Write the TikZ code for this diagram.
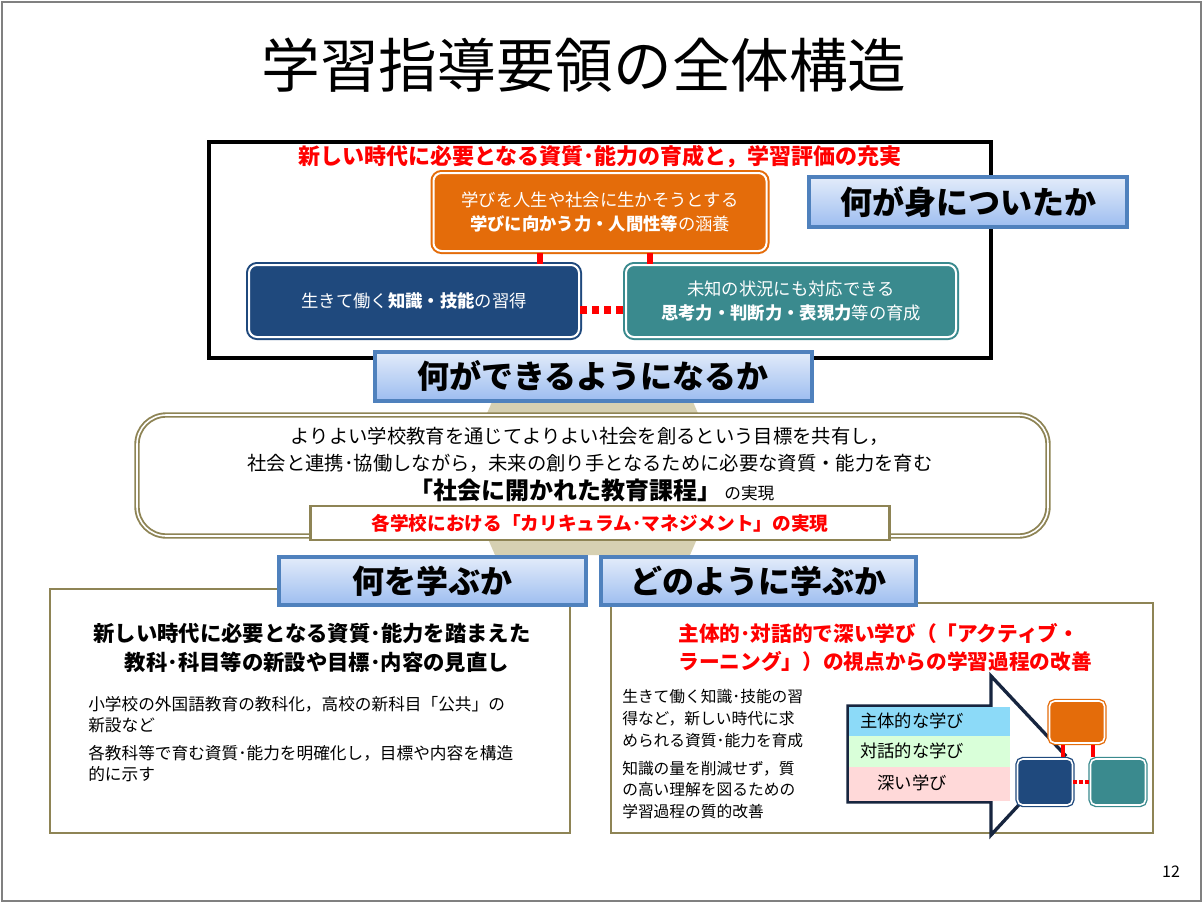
\documentclass[tikz,border=0pt]{standalone}
\usepackage{fontspec}
\setmainfont{Noto Sans CJK JP}
\begin{document}
\begin{tikzpicture}[x=0.75pt,y=-0.75pt,
  hdr/.style={draw=blueborder,line width=3pt,top color=hdtop,bottom color=hdbot,inner sep=0pt,font=\fontsize{24}{26}\selectfont\bfseries},
  oliv/.style={draw=olive2,line width=2.2pt},
  cbox/.style={rounded corners=6pt,line width=1.5pt,text=white,align=center,font=\fontsize{13}{18}\selectfont},
  rdash/.style={draw=red,line width=6pt,dash pattern=on 5pt off 4pt},
  txt/.style={inner sep=0pt,font=\fontsize{12.5}{15}\selectfont},
  red/.style={text=red}]
\definecolor{blueborder}{HTML}{4F81BD}
\definecolor{hdtop}{HTML}{E3ECFA}
\definecolor{hdbot}{HTML}{9DBDF0}
\definecolor{olive2}{HTML}{8E8455}
\definecolor{tan}{HTML}{D6D0B2}
\definecolor{orng}{HTML}{E46C0A}
\definecolor{dblue}{HTML}{1F497D}
\definecolor{teal2}{HTML}{3A8A8E}
\definecolor{navy}{HTML}{17253F}
\useasboundingbox (0,0) rectangle (1204,904);
\draw[gray,line width=0.8pt] (2,2) rectangle (1201,901);
\node (title) at (584,65) {\fontsize{44}{48}\selectfont 学習指導要領の全体構造};
% top box
\draw[line width=3pt] (209,142) rectangle (991,358);
\node[red,font=\fontsize{16.5}{18}\selectfont\bfseries] (goal) at (600,157) {新しい時代に必要となる資質･能力の育成と，学習評価の充実};
\node[cbox,fill=orng,draw=orng,double=white,double distance=1.5pt,minimum width=333pt*0.75,minimum height=78pt*0.75] (o) at (600,212) {学びを人生や社会に生かそうとする\\{\bfseries 学びに向かう力・人間性等}の涵養};
\node[cbox,fill=dblue,draw=dblue,double=white,double distance=1.5pt,minimum width=330pt*0.75,minimum height=72pt*0.75] (b) at (414,301) {生きて働く{\bfseries 知識・技能}の習得};
\node[cbox,fill=teal2,draw=teal2,double=white,double distance=1.5pt,minimum width=330pt*0.75,minimum height=72pt*0.75] (t) at (791,301) {未知の状況にも対応できる\\{\bfseries 思考力・判断力・表現力}等の育成};
\draw[rdash] (b.east |- 0,310) -- (t.west |- 0,310);
\draw[draw=red,line width=4pt] (540,253) -- (540,264) (650,253) -- (650,264);
\node[hdr,minimum width=318pt*0.75,minimum height=50pt*0.75] (h1) at (968,202) {何が身についたか};
% hexagon
\fill[tan] (495,395) -- (690,395) -- (725,475) -- (690,555) -- (495,555) -- (460,475) -- cycle;
\node[hdr,minimum width=437pt*0.75,minimum height=49pt*0.75] (h2) at (593,376) {何ができるようになるか};
\draw[olive2,line width=4pt,fill=white,rounded corners=22pt] (137,415) rectangle (1048,536);
\draw[white,line width=1.2pt,rounded corners=22pt] (137,415) rectangle (1048,536);
\node[txt,align=center,font=\fontsize{14.5}{20}\selectfont] (m1) at (590,450) {よりよい学校教育を通じてよりよい社会を創るという目標を共有し，\\社会と連携･協働しながら，未来の創り手となるために必要な資質・能力を育む};
\node[txt] (m2) at (592,490) {{\fontsize{18}{20}\selectfont\bfseries 「社会に開かれた教育課程」}\,{\fontsize{12.5}{14}\selectfont の実現}};
\node[draw=olive2,line width=1.6pt,fill=white,minimum width=579pt*0.75,minimum height=34pt*0.75,inner sep=0pt,red,font=\fontsize{14}{16}\selectfont\bfseries] (cm) at (600,523) {各学校における「カリキュラム･マネジメント」の実現};
% bottom boxes
\draw[oliv,fill=white] (50,589) rectangle (570,833);
\draw[oliv,fill=white] (611,603) rectangle (1153,833);
\node[hdr,minimum width=307pt*0.75,minimum height=48pt*0.75] (h3) at (432,581) {何を学ぶか};
\node[hdr,minimum width=315pt*0.75,minimum height=48pt*0.75] (h4) at (758,581) {どのように学ぶか};
\node[txt,align=center,font=\fontsize{16}{22}\selectfont\bfseries] (l1) at (312,648) {新しい時代に必要となる資質･能力を踏まえた\\\ \ 教科･科目等の新設や目標･内容の見直し};
\node[txt,align=left,anchor=north west,font=\fontsize{12.5}{16}\selectfont] (l2) at (88,696) {小学校の外国語教育の教科化，高校の新科目「公共」の\\新設など};
\node[txt,align=left,anchor=north west,font=\fontsize{12.5}{16}\selectfont] (l3) at (88,745) {各教科等で育む資質･能力を明確化し，目標や内容を構造\\的に示す};
\node[txt,red,align=left,font=\fontsize{15.5}{21}\selectfont\bfseries] (r1) at (885,648) {主体的･対話的で深い学び（「アクティブ・\\ラーニング」）の視点からの学習過程の改善};
\node[txt,align=left,anchor=north west,font=\fontsize{11.8}{16.5}\selectfont] (r2) at (622,689) {生きて働く知識･技能の習\\得など，新しい時代に求\\められる資質･能力を育成};
\node[txt,align=left,anchor=north west,font=\fontsize{11.8}{16}\selectfont] (r3) at (622,761) {知識の量を削減せず，質\\の高い理解を図るための\\学習過程の質的改善};
% arrow
\draw[navy,line width=2.5pt,fill=white,line join=miter] (848,706) -- (991,706) -- (991,676) -- (1065,755) -- (991,835) -- (991,802) -- (848,802) -- cycle;
\fill[cyan!45] (849,707) rectangle (1010,736);
\fill[green!15] (849,736) rectangle (1010,767);
\fill[red!15] (849,767) rectangle (1010,801);
\node[txt,font=\fontsize{13}{15}\selectfont] (a1) at (912,721) {主体的な学び};
\node[txt,font=\fontsize{13}{15}\selectfont] (a2) at (912,751) {対話的な学び};
\node[txt,font=\fontsize{13}{15}\selectfont] (a3) at (912,783) {深い学び};
\node[draw=orng,fill=orng,double=white,double distance=1.2pt,line width=1pt,rounded corners=4pt,minimum width=55pt*0.75,minimum height=42pt*0.75,inner sep=0pt] (so) at (1077,722) {};
\node[draw=dblue,fill=dblue,double=white,double distance=1.2pt,line width=1pt,rounded corners=4pt,minimum width=55pt*0.75,minimum height=46pt*0.75,inner sep=0pt] (sb) at (1045,782) {};
\node[draw=teal2,fill=teal2,double=white,double distance=1.2pt,line width=1pt,rounded corners=4pt,minimum width=55pt*0.75,minimum height=46pt*0.75,inner sep=0pt] (st) at (1118,782) {};
\draw[draw=red,line width=3pt,dash pattern=on 2.5pt off 2pt] (sb.east) -- (st.west);
\draw[draw=red,line width=3pt] (1063,745) -- (1063,757) (1093,745) -- (1093,757);
\node[txt,font=\fontsize{12}{14}\selectfont] (pg) at (1171,872) {12};
\end{tikzpicture}
\end{document}
